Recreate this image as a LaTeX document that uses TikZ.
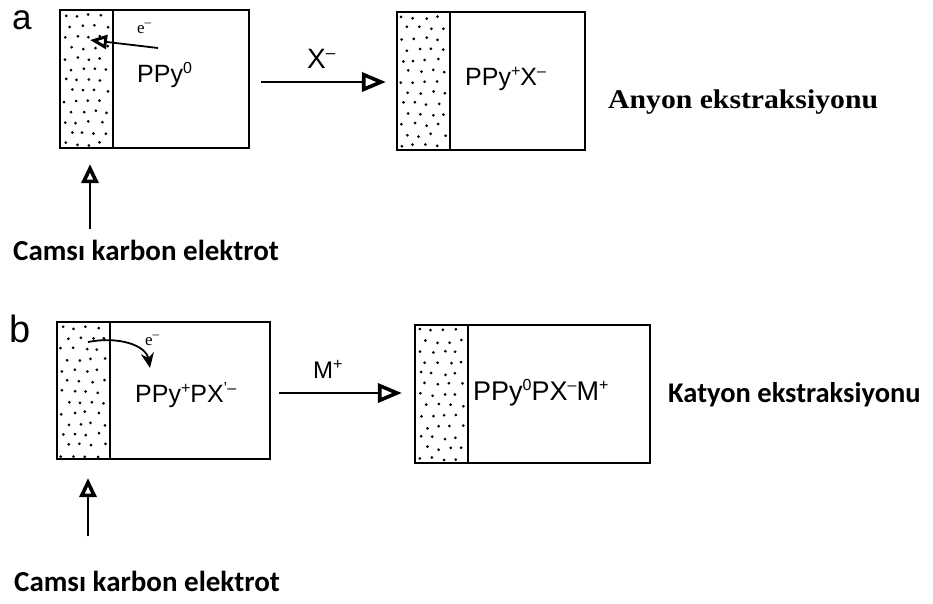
\documentclass[tikz,border=0pt]{standalone}
\usepackage{fontspec}
\setmainfont{Liberation Serif}
\newfontfamily\arialf{Liberation Sans}
\newfontfamily\calibrif{Carlito}
\usetikzlibrary{arrows.meta}
\newcommand\stipplefill[4]{%
  \pgfmathsetseed{#1}%
  \foreach \j in {0,...,12}{%
    \foreach \i in {0,...,3}{%
      \pgfmathsetmacro\px{#1+5+\i*12+mod(\j,2)*6+rand*1.6}%
      \pgfmathsetmacro\py{#2+5.5+\j*10.7+rand*1.6}%
      \fill (\px,\py) circle (1.5pt);}}}
% small raised text: size, raise, text
\newcommand\supx[3]{\raisebox{#2}{\fontsize{#1}{#1}\selectfont #3}}
\begin{document}
\begin{tikzpicture}[x=1pt,y=-1pt,
  box/.style={draw, line width=2.2pt, rectangle, inner sep=0pt},
  lbl/.style={inner sep=0pt, anchor=base west},
  harr/.style={line width=2.6pt, -{Triangle[open,length=24pt,width=19pt,line width=3.6pt]}},
  uparr/.style={line width=2.4pt, -{Triangle[open,length=19pt,width=17pt,line width=3.6pt]}},
  earr/.style={line width=1.8pt, -{Triangle[open,length=17pt,width=14pt,line width=3pt]}},
  carr/.style={line width=1.8pt, -{Stealth[length=15pt,width=13pt]}},
  sansf/.style={font=\arialf\fontsize{#1}{#1}\selectfont},
  calf/.style={font=\calibrif\bfseries\fontsize{#1}{#1}\selectfont}]
\useasboundingbox (0,0) rectangle (933,603);
\fill[white] (0,0) rectangle (933,603);

% ---------- panel a ----------
\stipplefill{60}{10}{113}{148}
\stipplefill{397}{12}{450}{150}
\node[box, minimum width=189pt, minimum height=138pt] (A1) at (154.5,79) {};
\node[box, minimum width=53pt, minimum height=138pt, anchor=north west] (S1) at (A1.north west) {};
\node[box, minimum width=188pt, minimum height=138pt] (A2) at (491,81) {};
\node[box, minimum width=53pt, minimum height=138pt, anchor=north west] (S2) at (A2.north west) {};

\node[lbl, sansf=35] (la) at (12,29) {a};
\node[lbl, font=\fontsize{17}{17}\selectfont] (ela) at (137,33) {e\supx{13}{7pt}{–}};
\node[lbl, sansf=25] (ppya) at (137,82) {PPy\supx{16}{9pt}{0}};
\coordinate (eaS) at (158,48);
\coordinate (eaT) at (90,40);
\draw[earr] (eaS) -- (eaT);

\node[lbl, sansf=28] (xl) at (307,68) {X\supx{17}{10pt}{–}};
\draw[harr, shorten <=11pt, shorten >=10pt] (A1.east |- 0,82) -- (A2.west |- 0,82);
\node[lbl, sansf=25] (ppyx) at (465,85) {PPy\supx{16}{9pt}{+}X\supx{16}{9pt}{–}};

\node[lbl, font=\bfseries\fontsize{27}{27}\selectfont] (anyon) at (608,108) {\scalebox{1.1}[1]{Anyon ekstraksiyonu}};

\node[lbl, calf=29] (cka) at (13,260) {Camsı karbon elektrot};
\coordinate (tipA) at ([xshift=3.5pt,yshift=-15pt]S1.south);
\draw[uparr, shorten <=10pt] (cka.north -| tipA) -- (tipA);

% ---------- panel b ----------
\stipplefill{57}{322}{110}{459}
\stipplefill{415}{325}{468}{463}
\node[box, minimum width=213pt, minimum height=137pt] (B1) at (163.5,390.5) {};
\node[box, minimum width=53pt, minimum height=137pt, anchor=north west] (S3) at (B1.north west) {};
\node[box, minimum width=235pt, minimum height=138pt] (B2) at (532.5,394) {};
\node[box, minimum width=53pt, minimum height=138pt, anchor=north west] (S4) at (B2.north west) {};

\node[lbl, sansf=38] (lb) at (9,342) {b};
\node[lbl, font=\fontsize{17}{17}\selectfont] (elb) at (145,345) {e\supx{13}{7pt}{–}};
\coordinate (ebS) at (88,342);
\coordinate (ebT) at (150,368);
\draw[carr] (ebS) .. controls (118,336) and (146,345) .. (ebT);
\node[lbl, sansf=25] (ppypx) at (135,402) {PPy\supx{16}{9pt}{+}PX\supx{16}{9pt}{’–}};

\node[lbl, sansf=24] (ml) at (313,378) {M\supx{16}{9pt}{+}};
\draw[harr, shorten <=8pt, shorten >=12pt] (B1.east |- 0,393) -- (B2.west |- 0,393);
\node[lbl, sansf=27] (ppym) at (473,400) {PPy\supx{16}{10pt}{0}PX\supx{16}{10pt}{–}M\supx{16}{10pt}{+}};

\node[lbl, calf=28.5] (katyon) at (668,402) {Katyon ekstraksiyonu};

\node[lbl, calf=29] (ckb) at (14,591) {Camsı karbon elektrot};
\coordinate (tipB) at ([xshift=4.5pt,yshift=-18pt]S3.south);
\draw[uparr, shorten <=34pt] (ckb.north -| tipB) -- (tipB);
\end{tikzpicture}
\end{document}
